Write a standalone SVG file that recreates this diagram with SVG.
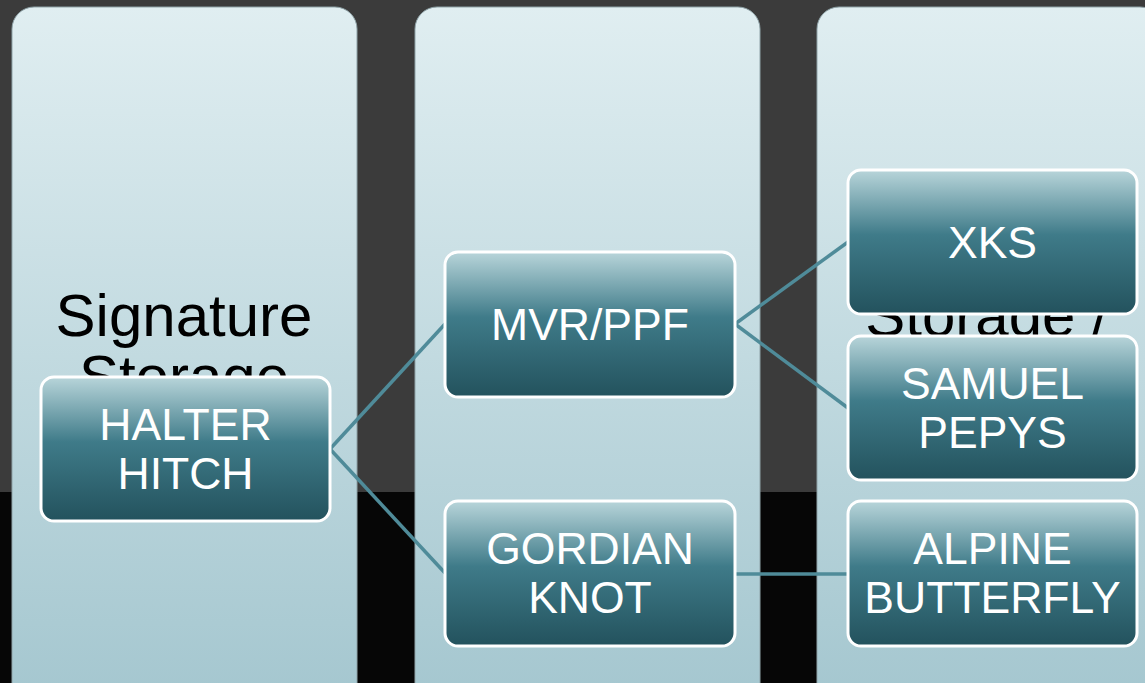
<svg xmlns="http://www.w3.org/2000/svg" width="1145" height="683" viewBox="0 0 1145 683">
  <defs>
    <linearGradient id="colFill" x1="0" y1="0" x2="0" y2="1">
      <stop offset="0" stop-color="#e0eef1"/>
      <stop offset="1" stop-color="#a2c5ce"/>
    </linearGradient>
    <linearGradient id="nodeFill" x1="0" y1="0" x2="0" y2="1">
      <stop offset="0" stop-color="#b8d5da"/>
      <stop offset="0.45" stop-color="#3f7b89"/>
      <stop offset="1" stop-color="#23525d"/>
    </linearGradient>
    <style>
      .col { fill: url(#colFill); stroke: #8fa3a8; stroke-width: 1; }
      .colTitle { font-family: "Liberation Sans", Arial, sans-serif; font-size: 60px; fill: #000; text-anchor: middle; }
      .node rect { fill: url(#nodeFill); stroke: #ffffff; stroke-width: 3; }
      .node text { font-family: "Liberation Sans", Arial, sans-serif; font-size: 44.5px; fill: #ffffff; text-anchor: middle; }
      .link { stroke: #4f8b99; stroke-width: 3.5; fill: none; }
    </style>
  </defs>

  <!-- backdrop -->
  <rect x="0" y="0" width="1145" height="492" fill="#3b3b3b"/>
  <rect x="0" y="492" width="1145" height="191" fill="#060606"/>

  <!-- column panels with their titles (partly covered by the nodes) -->
  <g id="columns">
    <rect class="col" x="12" y="7" width="345" height="720" rx="22"/>
    <rect class="col" x="415" y="7" width="345" height="720" rx="22"/>
    <rect class="col" x="817" y="7" width="345" height="720" rx="22"/>
    <text class="colTitle" x="184" y="336">Signature</text>
    <text class="colTitle" x="184" y="397">Storage</text>
    <text class="colTitle" x="987" y="336">Storage /</text>
  </g>

  <!-- connectors -->
  <g id="connectors">
    <line class="link" x1="330" y1="449" x2="445" y2="324"/>
    <line class="link" x1="330" y1="449" x2="445" y2="573"/>
    <line class="link" x1="735" y1="324" x2="848" y2="242"/>
    <line class="link" x1="735" y1="324" x2="848" y2="408"/>
    <line class="link" x1="735" y1="574" x2="848" y2="574"/>
  </g>

  <g id="halter-hitch" class="node">
    <rect x="41" y="377" width="289" height="144" rx="13"/>
    <text x="185.5" y="440">HALTER</text>
    <text x="185.5" y="489">HITCH</text>
  </g>

  <g id="mvr-ppf" class="node">
    <rect x="445" y="252" width="290" height="145" rx="13"/>
    <text x="590" y="340">MVR/PPF</text>
  </g>

  <g id="gordian-knot" class="node">
    <rect x="445" y="501" width="290" height="145" rx="13"/>
    <text x="590" y="564">GORDIAN</text>
    <text x="590" y="613">KNOT</text>
  </g>

  <g id="xks" class="node">
    <rect x="848" y="170" width="289" height="144" rx="13"/>
    <text x="992.5" y="258">XKS</text>
  </g>

  <g id="samuel-pepys" class="node">
    <rect x="848" y="336" width="289" height="144" rx="13"/>
    <text x="992.5" y="399">SAMUEL</text>
    <text x="992.5" y="448">PEPYS</text>
  </g>

  <g id="alpine-butterfly" class="node">
    <rect x="848" y="501" width="289" height="145" rx="13"/>
    <text x="992.5" y="564">ALPINE</text>
    <text x="992.5" y="613">BUTTERFLY</text>
  </g>
</svg>
